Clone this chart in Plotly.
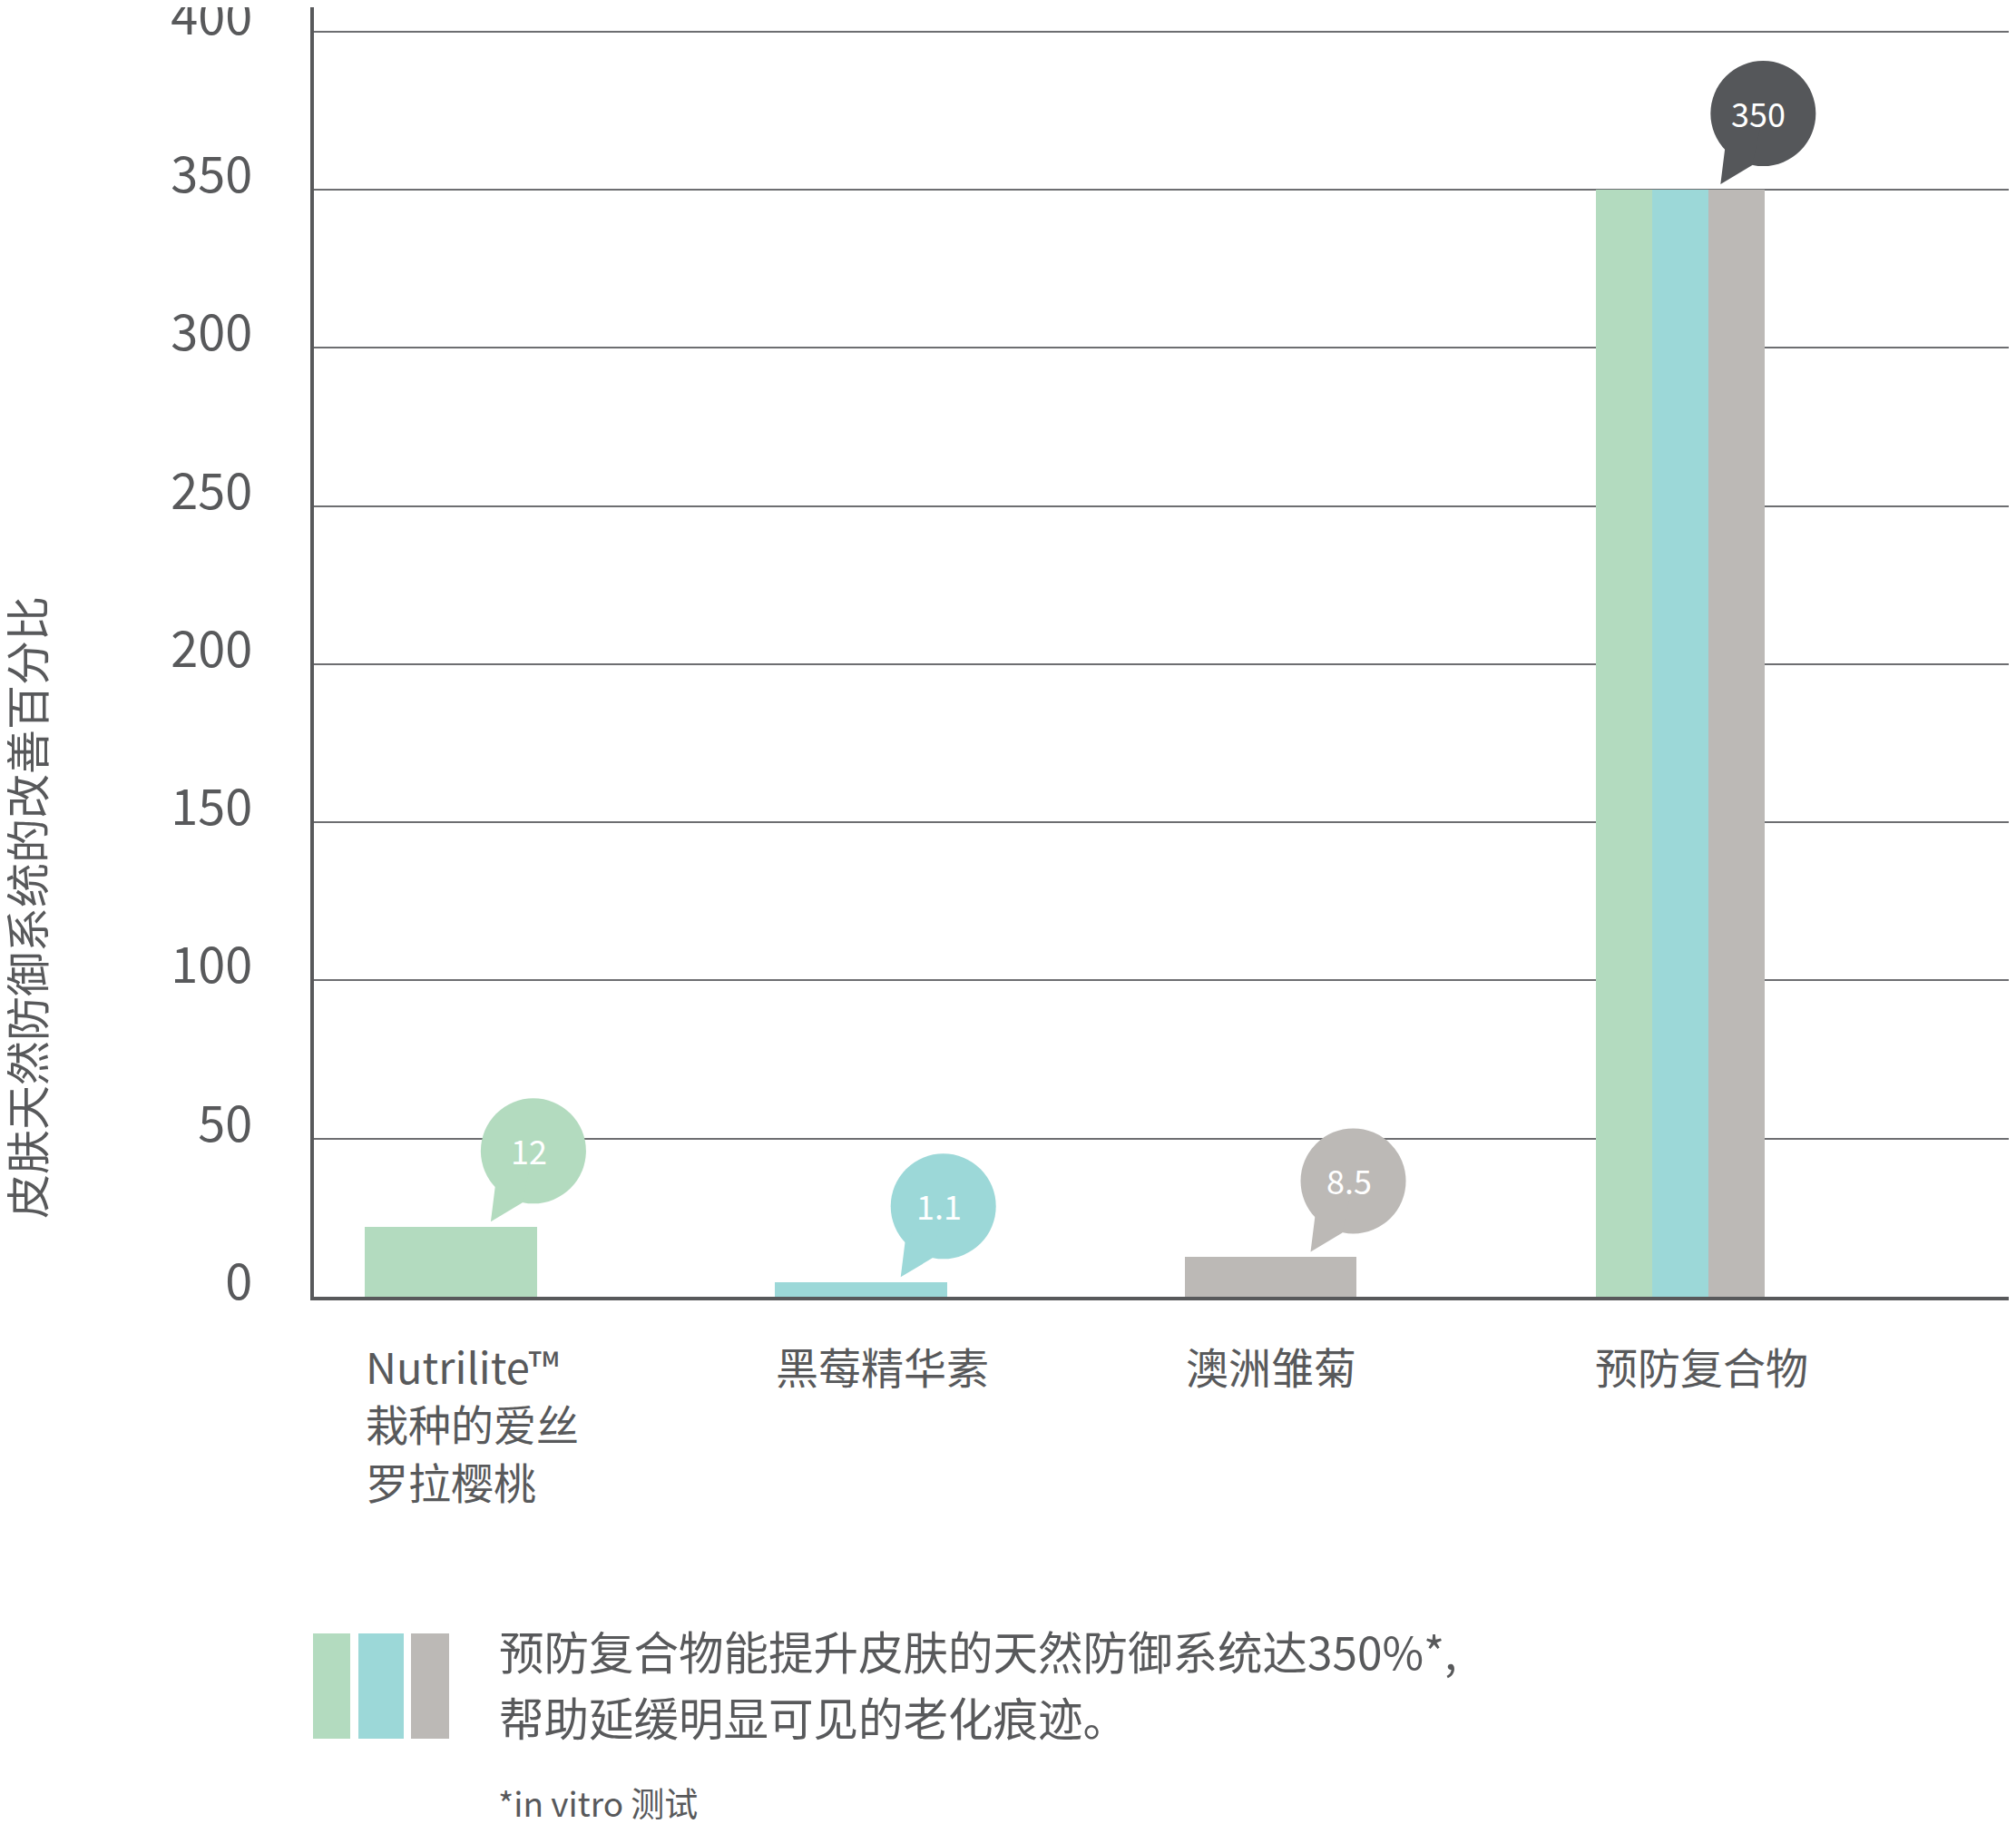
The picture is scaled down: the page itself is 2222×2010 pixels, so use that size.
import plotly.graph_objects as go

# ---------------- data ----------------
categories = ["Nutrilite™ 栽种的爱丝罗拉樱桃", "黑莓精华素", "澳洲雏菊", "预防复合物"]
category_label_lines = [["Nutrilite™", "栽种的爱丝", "罗拉樱桃"], ["黑莓精华素"], ["澳洲雏菊"], ["预防复合物"]]
single_heights = [22, 4.5, 12.5]          # drawn bar heights of the first three categories
combo_parts = ["爱丝罗拉樱桃", "黑莓精华素", "澳洲雏菊"]
combo_heights = [350, 350, 350]           # the three slim bars of 预防复合物
callout_labels = ["12", "1.1", "8.5", "350"]
y_ticks = [0, 50, 100, 150, 200, 250, 300, 350, 400]
y_title = "皮肤天然防御系统的改善百分比"
note_line1 = "预防复合物能提升皮肤的天然防御系统达350%*,"
note_line2 = "帮助延缓明显可见的老化痕迹。"
footnote = "*in vitro 测试"

# ---------------- styles ----------------
GREEN, TEAL, GRAY, DARK = "#b3dbbf", "#9cd8d8", "#bcb9b6", "#55575a"
TXT = "#58595b"
FONT = "Noto Sans CJK SC"
W, H = 2222, 2010
OFFX, OFFY = 6, 8           # page (body) offset of the plot div
L, R, T, B = 338, 2213, 0, 1421

def xp(px):                 # px given in reference-picture pixels
    return (px - OFFX - L) / (R - L)

def yp(py):
    return (B - (py - OFFY)) / (B - T)

fig = go.Figure()

single_colors = [GREEN, TEAL, GRAY]
fig.add_trace(go.Bar(
    x=categories[:3], y=single_heights, width=0.42,
    marker=dict(color=single_colors, line=dict(width=0)),
    showlegend=False, hoverinfo="skip"))

sub_w = 0.137
offsets = [-1.5 * sub_w, -0.5 * sub_w, 0.5 * sub_w]
for part, h, c, off in zip(combo_parts, combo_heights, single_colors, offsets):
    fig.add_trace(go.Bar(
        x=[categories[3]], y=[h], width=sub_w, offset=off,
        marker=dict(color=c, line=dict(width=0)),
        name=part, showlegend=False, hoverinfo="skip"))

# ---------------- speech bubbles ----------------
bubble_heights = single_heights + [max(combo_heights)]
bubble_colors = [GREEN, TEAL, GRAY, DARK]
cx, cy, rad = 91, 84, 58
annotations = []
shapes = []
for i, (h, lab, col) in enumerate(zip(bubble_heights, callout_labels, bubble_colors)):
    shapes.append(dict(type="circle", xref="x", yref="y",
                       xsizemode="pixel", ysizemode="pixel",
                       xanchor=i, yanchor=h,
                       x0=cx - rad, x1=cx + rad, y0=cy - rad, y1=cy + rad,
                       fillcolor=col, line=dict(width=0), layer="above"))
    shapes.append(dict(type="path", xref="x", yref="y",
                       xsizemode="pixel", ysizemode="pixel",
                       xanchor=i, yanchor=h,
                       path=f"M {cx-42},{cy-38} L {cx-47},{cy-78} L {cx-12},{cy-57} L {cx},{cy} Z",
                       fillcolor=col, line=dict(width=0), layer="above"))
    annotations.append(dict(x=i, y=h, xref="x", yref="y", text=lab, showarrow=False,
                            xshift=cx - 5, yshift=cy + 1,
                            font=dict(family=FONT, size=36, color="white")))

# ---------------- category labels (left aligned) ----------------
line_centers = [1504, 1567, 1631]
for i, lines in enumerate(category_label_lines):
    for ln, yc in zip(lines, line_centers):
        annotations.append(dict(x=i - 0.21, y=yp(yc), xref="x", yref="paper", text=ln,
                                showarrow=False, xanchor="left", yanchor="middle",
                                borderpad=0,
                                font=dict(family=FONT, size=47, color=TXT)))

# ---------------- y title ----------------
annotations.append(dict(x=xp(26), y=yp(1000), xref="paper", yref="paper", text=y_title,
                        showarrow=False, textangle=-90, xanchor="center", yanchor="middle",
                        borderpad=0,
                        font=dict(family=FONT, size=49, color=TXT)))

# ---------------- bottom note ----------------
for (x0, x1), c in zip([(343, 384), (393, 443), (451, 493)], single_colors):
    shapes.append(dict(type="rect", xref="paper", yref="paper",
                       x0=xp(x0), x1=xp(x1), y0=yp(1916), y1=yp(1800),
                       fillcolor=c, line=dict(width=0)))
annotations.append(dict(x=xp(546), y=yp(1818), xref="paper", yref="paper", text=note_line1,
                        showarrow=False, xanchor="left", yanchor="middle",
                        font=dict(family=FONT, size=49.5, color=TXT)))
annotations.append(dict(x=xp(546), y=yp(1891), xref="paper", yref="paper", text=note_line2,
                        showarrow=False, xanchor="left", yanchor="middle",
                        font=dict(family=FONT, size=49.5, color=TXT)))
annotations.append(dict(x=xp(546), y=yp(1986), xref="paper", yref="paper", text=footnote,
                        showarrow=False, xanchor="left", yanchor="middle", borderpad=0,
                        font=dict(family=FONT, size=37, color=TXT)))

fig.update_layout(
    width=W, height=H,
    margin=dict(l=L, r=W - R, t=T, b=H - B, autoexpand=False),
    paper_bgcolor="white", plot_bgcolor="white",
    barmode="overlay", bargap=0,
    shapes=shapes, annotations=annotations,
    font=dict(family=FONT, color=TXT),
)
fig.update_xaxes(type="category", categoryorder="array", categoryarray=categories,
                 range=[-0.334, 3.816], showticklabels=False, ticks="",
                 showgrid=False, zeroline=False, automargin=False,
                 showline=True, linecolor="#58595b", linewidth=4)
fig.update_yaxes(range=[0, 407.7], tickvals=y_ticks, ticktext=[str(v) for v in y_ticks],
                 tickfont=dict(family=FONT, size=54, color=TXT),
                 ticks="", ticklabelstandoff=53, ticklabelshift=-16,
                 ticklabeloverflow="allow", automargin=False,
                 showgrid=True, gridcolor="#6d6e71", gridwidth=1.5,
                 zeroline=False, showline=True, linecolor="#58595b", linewidth=4)

fig.write_html("out.html")
